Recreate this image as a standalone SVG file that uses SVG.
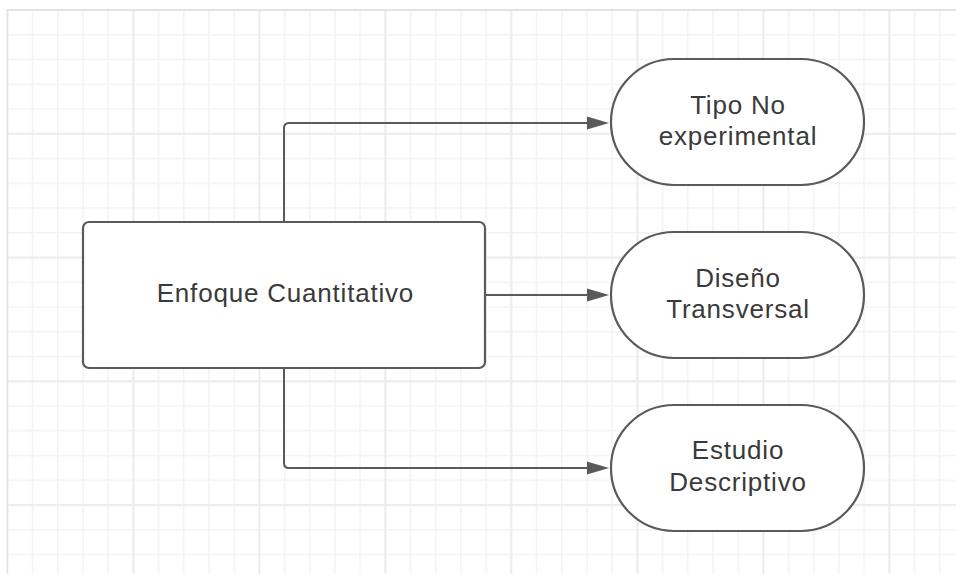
<svg xmlns="http://www.w3.org/2000/svg" width="956" height="574" viewBox="0 0 956 574">
  <defs>
    <pattern id="minor" patternUnits="userSpaceOnUse" x="6.55" y="9.25" width="25.2" height="24.75">
      <rect x="0" y="0" width="1.5" height="24.75" fill="#f3f3f3"/>
      <rect x="0" y="0" width="25.2" height="1.5" fill="#f3f3f3"/>
    </pattern>
    <pattern id="major" patternUnits="userSpaceOnUse" x="6.4" y="9.1" width="126" height="123.75">
      <rect x="0" y="0" width="1.8" height="123.75" fill="#ececec"/>
      <rect x="0" y="0" width="126" height="1.8" fill="#ececec"/>
    </pattern>
    <marker id="arrow" markerUnits="userSpaceOnUse" markerWidth="22" markerHeight="14" refX="13" refY="7" orient="auto">
      <path d="M0,0.5 L22,7 L0,13.5 z" fill="#5a5a5a"/>
    </marker>
    <style>
      .shape { fill: #ffffff; stroke: #5a5a5a; stroke-width: 2.2; }
      .conn { fill: none; stroke: #5a5a5a; stroke-width: 2; }
      .label { font-family: "Liberation Sans", Arial, sans-serif; font-size: 26px; letter-spacing: 0.8px; fill: #3a3a3a; text-anchor: middle; }
    </style>
  </defs>

  <rect x="0" y="0" width="956" height="574" fill="#ffffff"/>
  <g id="grid">
    <rect x="7" y="9" width="949" height="565" fill="url(#minor)"/>
    <rect x="7" y="9" width="949" height="565" fill="url(#major)"/>
    <line x1="7" y1="9.8" x2="956" y2="9.8" stroke="#e2e2e2" stroke-width="1.8"/>
    <line x1="7.3" y1="9" x2="7.3" y2="574" stroke="#e4e4e4" stroke-width="1.6"/>
  </g>

  <g id="connectors">
    <path class="conn" d="M284 221 V128 Q284 123 289 123 H600" marker-end="url(#arrow)"/>
    <path class="conn" d="M485 295 H600" marker-end="url(#arrow)"/>
    <path class="conn" d="M284 368 V463 Q284 468 289 468 H600" marker-end="url(#arrow)"/>
  </g>

  <g id="enfoque">
    <rect class="shape" x="83" y="222" width="402" height="146" rx="6" ry="6"/>
    <text class="label" x="285.4" y="302">Enfoque Cuantitativo</text>
  </g>

  <g id="tipo">
    <rect class="shape" x="611" y="59" width="253" height="126" rx="63" ry="63"/>
    <text class="label" x="738" y="113.5">Tipo No</text>
    <text class="label" x="738" y="144.5">experimental</text>
  </g>

  <g id="diseno">
    <rect class="shape" x="611" y="232" width="253" height="126" rx="63" ry="63"/>
    <text class="label" x="738" y="286.5">Diseño</text>
    <text class="label" x="738" y="318">Transversal</text>
  </g>

  <g id="estudio">
    <rect class="shape" x="611" y="405" width="253" height="126" rx="63" ry="63"/>
    <text class="label" x="738" y="459">Estudio</text>
    <text class="label" x="738" y="490.5">Descriptivo</text>
  </g>
</svg>
